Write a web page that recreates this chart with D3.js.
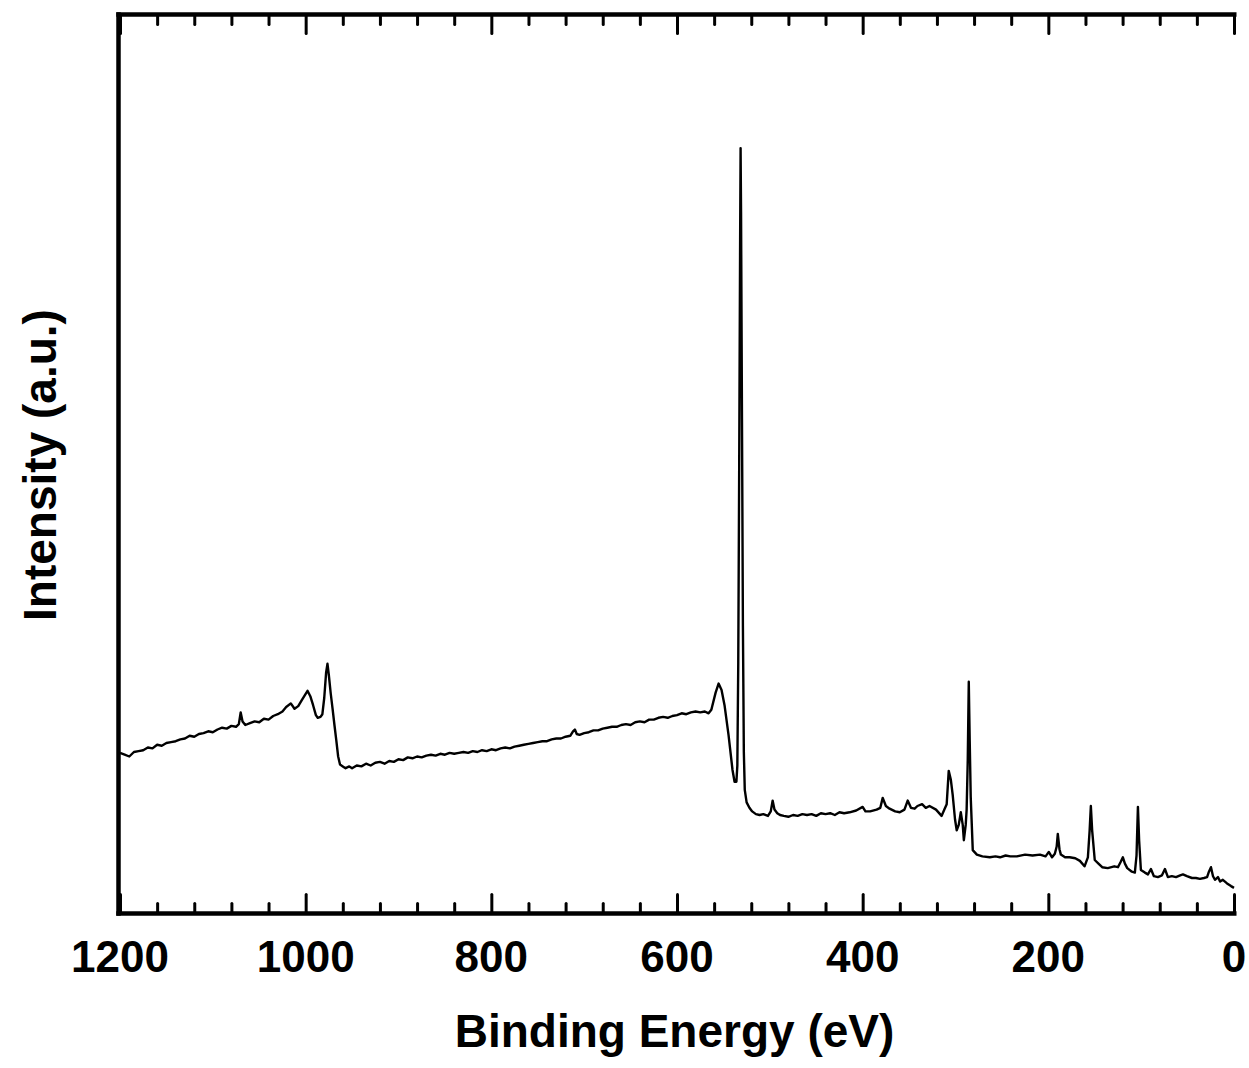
<!DOCTYPE html>
<meta charset="utf-8">
<style>
body { margin: 0; background: #fff; }
text { font-family: "Liberation Sans", Arial, sans-serif; font-weight: bold; fill: #000; }
.line { fill: none; stroke: #000; stroke-width: 2.4px; stroke-linejoin: round; }
.frame { stroke: #000; stroke-width: 4.5px; }
.tick line { stroke: #000; stroke-width: 3px; stroke-linecap: round; }
.axis path { display: none; }
</style>
<svg width="1249" height="1068"></svg>
<script src="https://d3js.org/d3.v7.min.js"></script>
<script>
// XPS survey: [binding energy (eV), intensity (a.u.)]
var spectrum = [
  [1200,17.9],[1195,17.7],[1190,17.5],[1185,18.0],[1180,18.1],[1175,18.2],[1170,18.5],[1165,18.4],
  [1160,18.8],[1155,18.7],[1150,19.0],[1145,19.1],[1140,19.2],[1135,19.4],[1130,19.5],[1125,19.8],
  [1120,19.7],[1115,20.0],[1110,20.1],[1105,20.3],[1100,20.2],[1095,20.5],[1090,20.7],[1085,20.6],
  [1080,20.9],[1075,20.8],[1072,21.1],[1070,22.4],[1068,21.4],[1065,21.0],[1060,21.2],[1055,21.4],
  [1050,21.3],[1045,21.7],[1040,21.6],[1035,22.0],[1030,22.2],[1025,22.5],[1021,23.0],[1016,23.4],
  [1012,22.8],[1008,23.1],[1004,23.8],[1001,24.3],[998,24.8],[995,24.2],[992,23.2],[989,22.1],
  [987,21.8],[984,21.9],[982,22.2],[980,24.0],[978,26.8],[976.5,27.8],[975,26.5],[973,24.5],
  [971,22.8],[969,21.0],[967,19.3],[965,17.5],[963,16.6],[960,16.4],[957,16.2],[953,16.4],
  [950,16.2],[945,16.5],[940,16.4],[935,16.7],[930,16.5],[925,16.8],[920,16.9],[915,16.7],
  [910,17.0],[905,16.9],[900,17.2],[895,17.1],[890,17.4],[885,17.3],[880,17.5],[875,17.4],
  [870,17.6],[865,17.7],[860,17.6],[855,17.8],[850,17.7],[845,17.9],[840,17.8],[835,17.9],
  [830,18.0],[825,17.9],[820,18.1],[815,18.0],[810,18.2],[805,18.1],[800,18.3],[795,18.2],
  [790,18.4],[785,18.5],[780,18.4],[775,18.6],[770,18.7],[765,18.8],[760,18.9],[755,19.0],
  [750,19.1],[745,19.2],[740,19.2],[735,19.4],[730,19.5],[725,19.5],[720,19.7],[715,19.8],
  [712,20.3],[710,20.5],[708,20.0],[705,19.9],[700,20.1],[695,20.2],[690,20.4],[685,20.4],
  [680,20.6],[675,20.7],[670,20.8],[665,20.8],[660,21.0],[655,21.1],[650,21.0],[645,21.3],
  [640,21.4],[635,21.3],[630,21.6],[625,21.6],[620,21.8],[615,21.9],[610,21.8],[605,22.0],
  [600,22.1],[595,22.3],[590,22.2],[585,22.4],[580,22.5],[575,22.4],[570,22.5],[566,22.3],
  [563,22.7],[558.4,24.6],[555.2,25.6],[552,24.9],[548.8,23.2],[544.5,19.9],[540.2,16.0],[538,14.7],
  [536,14.7],[535,16.5],[534,28],[533,50],[532,75],[531.5,85.1],[531,78],[530,55],
  [529,32],[528,18],[527,13.8],[525,12.4],[522,11.8],[519,11.4],[515,11.1],[511,11.0],
  [507,11.1],[502,10.9],[499,11.4],[497,12.6],[495,11.6],[492,11.2],[489,11.0],[485,10.9],
  [480,10.8],[475,11.0],[470,10.9],[465,11.1],[460,11.0],[455,11.1],[450,10.9],[445,11.2],
  [440,11.1],[435,11.2],[430,11.0],[425,11.3],[420,11.2],[414,11.3],[407,11.5],[400,11.9],
  [397,11.4],[392,11.4],[385,11.6],[381,11.8],[378.4,12.9],[375,12.0],[371,11.7],[365,11.4],
  [360,11.3],[355,11.6],[351.5,12.6],[348,11.8],[344,11.7],[341,12.0],[336,12.2],[332,11.8],
  [328,12.0],[321,11.6],[315,10.9],[312,11.6],[309.5,12.2],[307.3,15.9],[305,14.9],[303,13.2],
  [300.5,10.5],[298.7,9.3],[296.5,9.9],[294.3,11.3],[292.2,9.9],[291,8.2],[289,9.9],[288,11.6],
  [286.8,17.1],[285.7,25.8],[284.7,19.3],[283.6,13.0],[281.4,7.1],[277,6.6],[271,6.4],[263,6.3],
  [257,6.4],[252,6.3],[246,6.5],[241,6.4],[234,6.4],[225,6.6],[217,6.5],[209,6.6],
  [203,6.4],[199.5,6.9],[196,6.3],[193,6.7],[191,7.5],[189.8,8.9],[188,7.2],[186.5,6.6],
  [182,6.3],[177,6.3],[171,6.2],[166,5.9],[161,5.3],[157.4,6.3],[155.5,9.3],[154.2,12.0],
  [152.8,9.3],[150,6.0],[146,5.6],[142,5.2],[136,5.1],[129,5.3],[125,5.2],[122,5.8],
  [119.7,6.3],[117.5,5.6],[115,5.1],[110,4.7],[106.8,4.6],[105,6.5],[103.5,11.9],[102.2,8.2],
  [100.3,4.9],[96,4.6],[92.7,4.4],[89.5,5.0],[86.3,4.2],[82,4.1],[77.6,4.3],[74.4,5.0],
  [71.2,4.1],[67,4.2],[62.5,4.1],[58,4.3],[55,4.4],[50.7,4.2],[45.3,4.0],[41,4.0],
  [36.7,3.9],[32.3,4.0],[29,4.1],[27,4.7],[24.8,5.2],[22.6,4.2],[20.5,3.8],[17.3,4.1],
  [15,3.6],[12,3.8],[7.5,3.4],[3.2,3.1],[0,2.9]
];
var majorTicks = [1200, 1000, 800, 600, 400, 200, 0];
var minorTicks = [1160, 1120, 1080, 1040, 960, 920, 880, 840, 760, 720, 680, 640,
                  560, 520, 480, 440, 360, 320, 280, 240, 160, 120, 80, 40];

var svg = d3.select("svg");
var plotLeft = 118.5, plotRight = 1236.5, plotTop = 14.5, plotBottom = 913.5;

var x = d3.scaleLinear().domain([1200, 0]).range([120, 1234]),
    y = d3.scaleLinear().domain([0, 100]).range([914, 14]);

var line = d3.line()
    .x(function(d) { return x(d[0]); })
    .y(function(d) { return y(d[1]); });

svg.append("path")
    .datum(spectrum)
    .attr("class", "line")
    .attr("d", line);

// ticks, pointing inward on top and bottom
svg.append("g").attr("class", "axis")
    .attr("transform", "translate(0," + plotBottom + ")")
    .call(d3.axisBottom(x).tickValues(majorTicks).tickSize(-19).tickFormat(""));
svg.append("g").attr("class", "axis")
    .attr("transform", "translate(0," + plotBottom + ")")
    .call(d3.axisBottom(x).tickValues(minorTicks).tickSize(-10).tickFormat(""));
svg.append("g").attr("class", "axis")
    .attr("transform", "translate(0," + plotTop + ")")
    .call(d3.axisTop(x).tickValues(majorTicks).tickSize(-19).tickFormat(""));
svg.append("g").attr("class", "axis")
    .attr("transform", "translate(0," + plotTop + ")")
    .call(d3.axisTop(x).tickValues(minorTicks).tickSize(-10).tickFormat(""));

// frame: left, top, bottom (no right spine)
svg.append("line").attr("class", "frame")
    .attr("x1", plotLeft).attr("x2", plotLeft).attr("y1", plotTop - 2.2).attr("y2", plotBottom + 2.2);
svg.append("line").attr("class", "frame")
    .attr("x1", plotLeft - 2.2).attr("x2", plotRight).attr("y1", plotTop).attr("y2", plotTop);
svg.append("line").attr("class", "frame")
    .attr("x1", plotLeft - 2.2).attr("x2", plotRight).attr("y1", plotBottom).attr("y2", plotBottom);

svg.selectAll(".xlabel")
    .data(majorTicks)
  .enter().append("text")
    .attr("class", "xlabel")
    .attr("x", function(d) { return x(d); })
    .attr("y", 972)
    .attr("text-anchor", "middle")
    .style("font-size", "44px")
    .text(function(d) { return d; });

svg.append("text")
    .attr("x", (plotLeft + plotRight) / 2 - 3)
    .attr("y", 1047)
    .attr("text-anchor", "middle")
    .style("font-size", "46px")
    .text("Binding Energy (eV)");

svg.append("text")
    .attr("transform", "translate(56,465) rotate(-90)")
    .attr("text-anchor", "middle")
    .style("font-size", "46px")
    .text("Intensity (a.u.)");
</script>
